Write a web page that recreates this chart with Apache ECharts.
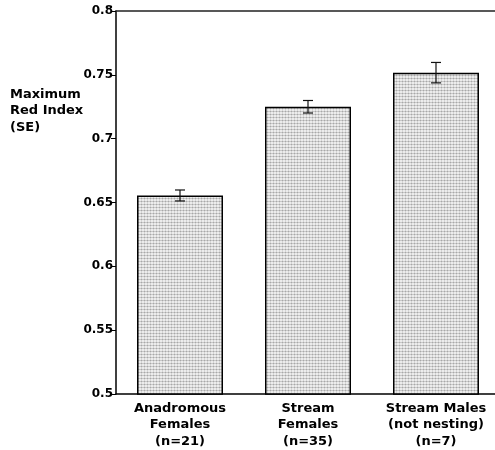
<!DOCTYPE html>
<html>
<head>
<meta charset="utf-8">
<script src="https://cdn.jsdelivr.net/npm/echarts@6/dist/echarts.min.js"></script>
<style>
  html, body { margin: 0; padding: 0; background: #fff; }
  #chart { width: 495px; height: 450px; }
</style>
</head>
<body>
<div id="chart"></div>
<script>
// Group labels, mean maximum red index and its standard error
const categories = ['Anadromous\nFemales\n(n=21)', 'Stream\nFemales\n(n=35)', 'Stream Males\n(not nesting)\n(n=7)'];
const means = [0.6555, 0.725, 0.7517];
const stdErr = [0.0043, 0.0049, 0.008];
const yTicks = { min: 0.5, max: 0.8, step: 0.05 };

const FONT = '"DejaVu Sans", sans-serif';

// Stippled light-grey fill for the bars
function stipple() {
  const c = document.createElement('canvas');
  c.width = 3; c.height = 3;
  const g = c.getContext('2d');
  g.fillStyle = '#ececec'; g.fillRect(0, 0, 3, 3);
  g.fillStyle = '#c8c8c8'; g.fillRect(0, 0, 3, 1);
  g.fillStyle = '#d4d4d4'; g.fillRect(0, 0, 1, 3);
  g.fillStyle = '#a8a8a8'; g.fillRect(0, 0, 1, 1);
  return c;
}

const chart = echarts.init(document.getElementById('chart'), null, { renderer: 'canvas' });

chart.setOption({
  animation: false,
  backgroundColor: '#fff',
  grid: { left: 116, top: 11, right: -5, bottom: 56, containLabel: false, outerBoundsMode: 'none' },
  graphic: [{
    type: 'text',
    left: 10,
    top: 86,
    style: {
      text: 'Maximum\nRed Index\n(SE)',
      font: 'bold 13px ' + FONT,
      lineHeight: 16.5,
      fill: '#000'
    }
  }],
  xAxis: [{
    type: 'category',
    data: categories,
    axisLine: { lineStyle: { color: '#000', width: 1.5 } },
    axisTick: { show: false },
    axisLabel: {
      color: '#000',
      fontFamily: FONT,
      fontWeight: 'bold',
      fontSize: 13,
      lineHeight: 16.5,
      margin: 6,
      interval: 0
    }
  }, {
    type: 'category',
    data: categories,
    position: 'top',
    axisLine: { lineStyle: { color: '#222', width: 1.5 } },
    axisTick: { show: false },
    axisLabel: { show: false }
  }],
  yAxis: {
    type: 'value',
    min: yTicks.min,
    max: yTicks.max,
    interval: yTicks.step,
    splitLine: { show: false },
    axisLine: { show: true, lineStyle: { color: '#000', width: 1.5 } },
    axisTick: { show: true, length: 5, lineStyle: { color: '#000', width: 1 } },
    axisLabel: {
      color: '#000',
      fontFamily: FONT,
      fontWeight: 'bold',
      fontSize: 12,
      margin: 3,
      formatter: v => String(+v.toFixed(2))
    }
  },
  series: [{
    type: 'bar',
    data: means,
    barWidth: 86,
    itemStyle: {
      color: { image: stipple(), repeat: 'repeat' },
      borderColor: '#000',
      borderWidth: 1.5
    }
  }, {
    type: 'custom',
    data: means.map((m, i) => [i, m - stdErr[i], m + stdErr[i]]),
    z: 10,
    renderItem: function (params, api) {
      const lo = api.coord([api.value(0), api.value(1)]);
      const hi = api.coord([api.value(0), api.value(2)]);
      const half = 5;
      const style = { stroke: '#111', lineWidth: 1.2 };
      return {
        type: 'group',
        children: [
          { type: 'line', shape: { x1: hi[0], y1: hi[1], x2: lo[0], y2: lo[1] }, style },
          { type: 'line', shape: { x1: hi[0] - half, y1: hi[1], x2: hi[0] + half, y2: hi[1] }, style },
          { type: 'line', shape: { x1: lo[0] - half, y1: lo[1], x2: lo[0] + half, y2: lo[1] }, style }
        ]
      };
    }
  }]
});
</script>
</body>
</html>
